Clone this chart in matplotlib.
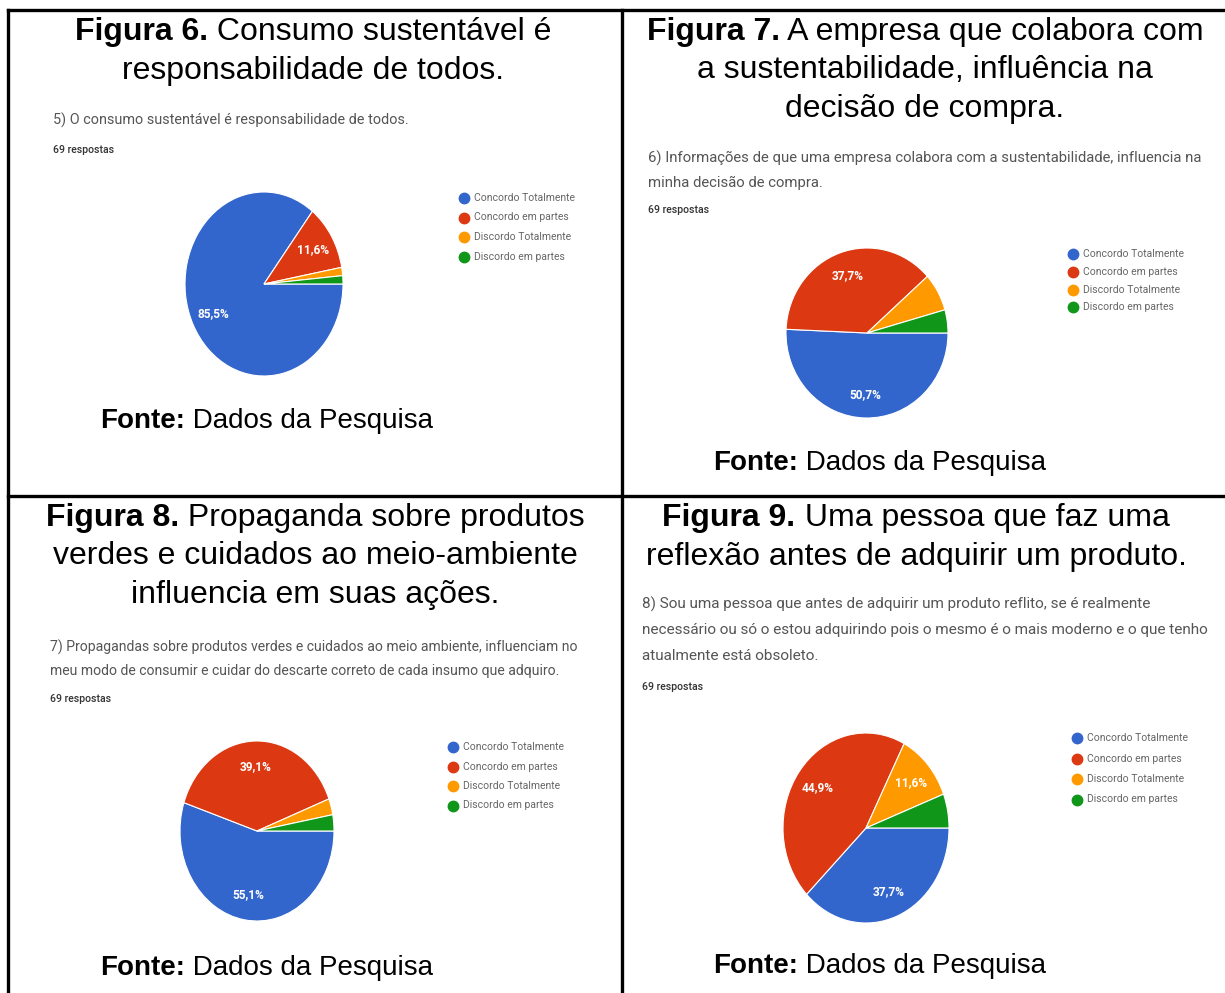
import matplotlib
matplotlib.use('Agg')
import matplotlib.pyplot as plt
from matplotlib.lines import Line2D

W, H = 1225, 993

# survey answers (same for all four questions)
categories = ['Concordo Totalmente', 'Concordo em partes',
              'Discordo Totalmente', 'Discordo em partes']
colors = ['#3366cc', '#dc3912', '#ff9900', '#109618']

# percentages
fig6_vals = [85.5, 11.6, 1.45, 1.45]
fig7_vals = [50.7, 37.7, 7.2, 4.4]
fig8_vals = [55.1, 39.1, 2.9, 2.9]
fig9_vals = [37.7, 44.9, 11.6, 5.8]

fig6_caption = ['Consumo sustentável é', 'responsabilidade de todos.']
fig7_caption = ['A empresa que colabora com', 'a sustentabilidade, influência na',
                'decisão de compra.']
fig8_caption = ['Propaganda sobre produtos', 'verdes e cuidados ao meio-ambiente',
                'influencia em suas ações.']
fig9_caption = ['Uma pessoa que faz uma', 'reflexão antes de adquirir um produto.']

fig6_question = ['5) O consumo sustentável é responsabilidade de todos.']
fig7_question = ['6) Informações de que uma empresa colabora com a sustentabilidade, influencia na',
                 'minha decisão de compra.']
fig8_question = ['7) Propagandas sobre produtos verdes e cuidados ao meio ambiente, influenciam no',
                 'meu modo de consumir e cuidar do descarte correto de cada insumo que adquiro.']
fig9_question = ['8) Sou uma pessoa que antes de adquirir um produto reflito, se é realmente',
                 'necessário ou só o estou adquirindo pois o mesmo é o mais moderno e o que tenho',
                 'atualmente está obsoleto.']

n_resp = '69 respostas'
fonte = ('Fonte:', ' Dados da Pesquisa')

fig = plt.figure(figsize=(W / 100, H / 100), dpi=100)
fig.patch.set_facecolor('white')
renderer = fig.canvas.get_renderer()

CAP_FONT = 'Liberation Sans'
CAP_SIZE = 23
Q_FONT = 'Roboto'


def fx(x):
    return x / W


def fy(y):
    return 1 - y / H


def mixed_line(cx, y, bold, rest, size=CAP_SIZE):
    tb = fig.text(0, fy(y), bold, fontsize=size, family=CAP_FONT, weight='bold',
                  va='center', ha='left')
    tr = fig.text(0, fy(y), rest, fontsize=size, family=CAP_FONT,
                  va='center', ha='left')
    wb = tb.get_window_extent(renderer).width
    wr = tr.get_window_extent(renderer).width
    x0 = cx - (wb + wr) / 2
    tb.set_x(fx(x0))
    tr.set_x(fx(x0 + wb))


def caption(num, lines, cx, y0, dy=38.5):
    mixed_line(cx, y0, 'Figura %d.' % num, ' ' + lines[0])
    for i, line in enumerate(lines[1:]):
        fig.text(fx(cx), fy(y0 + (i + 1) * dy), line, fontsize=CAP_SIZE,
                 family=CAP_FONT, ha='center', va='center')


def question(lines, x, y0, dy, resp_y, size=10.6):
    for i, line in enumerate(lines):
        fig.text(fx(x), fy(y0 + i * dy), line, fontsize=size, family=Q_FONT,
                 color='#555555', ha='left', va='center')
    fig.text(fx(x), fy(resp_y), n_resp, fontsize=7.6, family=Q_FONT,
             color='#333333', ha='left', va='center', weight='medium')


def pie(vals, cx, cy, rx, ry, leg_x, leg_y, leg_dy):
    ax = fig.add_axes([fx(cx - rx), fy(cy + ry), 2 * rx / W, 2 * ry / H])

    def fmt(p):
        return ('%.1f%%' % p).replace('.', ',') if p >= 10 else ''

    wedges, _, autotexts = ax.pie(vals, colors=colors, startangle=0, counterclock=False,
                                  autopct=fmt, pctdistance=0.72,
                                  wedgeprops=dict(edgecolor='white', linewidth=0.8))
    for t in autotexts:
        t.set_color('white')
        t.set_fontsize(8.6)
        t.set_family(Q_FONT)
        t.set_weight('bold')
    ax.set_aspect('auto')
    ax.set_xlim(-1, 1)
    ax.set_ylim(-1, 1)
    ax.axis('off')

    for i, (c, lab) in enumerate(zip(colors, categories)):
        y = leg_y + i * leg_dy
        fig.add_artist(Line2D([fx(leg_x)], [fy(y)], marker='o', markersize=7.5,
                              color=c, linestyle='', transform=fig.transFigure))
        fig.text(fx(leg_x + 10), fy(y), lab, fontsize=7.5, family=Q_FONT,
                 color='#666666', ha='left', va='center')


def source(cx, y):
    mixed_line(cx, y, fonte[0], fonte[1], size=20)


# table grid
lw = 2.4
for xs, ys in [([8, 1225], [10, 10]), ([8, 8], [10, 993]), ([622, 622], [10, 993]),
               ([8, 1225], [496, 496])]:
    fig.add_artist(Line2D([fx(v) for v in xs], [fy(v) for v in ys], color='black',
                          linewidth=lw, transform=fig.transFigure, solid_capstyle='projecting'))

# Figura 6
caption(6, fig6_caption, 313, 32)
question(fig6_question, 53, 120, 24, 150, size=10.4)
pie(fig6_vals, 264, 284, 79, 92, 464, 198, 19.5)
source(267, 421)

# Figura 7
caption(7, fig7_caption, 925, 32)
question(fig7_question, 648, 158, 24.5, 210, size=10.7)
pie(fig7_vals, 867, 333, 81, 85, 1073, 254, 17.8)
source(880, 463)

# Figura 8
caption(8, fig8_caption, 315, 518)
question(fig8_question, 50, 647, 23.5, 699, size=10.1)
pie(fig8_vals, 257, 831, 77, 90, 453, 747, 19.5)
source(267, 968)

# Figura 9
caption(9, fig9_caption, 916, 518)
question(fig9_question, 642, 604, 26, 687, size=11.0)
pie(fig9_vals, 866, 828, 83, 95, 1077, 738, 20.5)
source(880, 966)

fig.savefig('out.png', dpi=100, facecolor='white')
